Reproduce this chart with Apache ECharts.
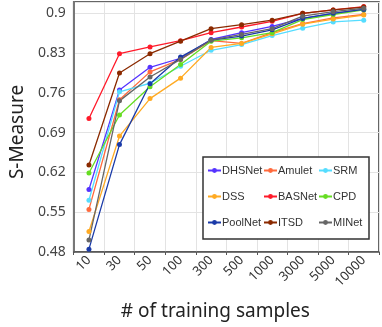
<!DOCTYPE html>
<html>
<head>
<meta charset="utf-8">
<script src="https://cdn.jsdelivr.net/npm/echarts@6/dist/echarts.min.js"></script>
<style>
  html, body { margin: 0; padding: 0; background: #fff; }
  #chart { width: 382px; height: 327px; }
</style>
</head>
<body>
<div id="chart"></div>
<script>
const samples = ['10', '30', '50', '100', '300', '500', '1000', '3000', '5000', '10000']

const dhsnet = [0.590, 0.765, 0.805, 0.821, 0.854, 0.866, 0.877, 0.891, 0.900, 0.907]
const amulet = [0.555, 0.748, 0.797, 0.819, 0.852, 0.847, 0.866, 0.882, 0.892, 0.898]
const srm = [0.571, 0.762, 0.777, 0.807, 0.835, 0.845, 0.861, 0.874, 0.885, 0.888]
const dss = [0.516, 0.684, 0.750, 0.786, 0.840, 0.847, 0.864, 0.881, 0.890, 0.897]
const basnet = [0.715, 0.829, 0.841, 0.852, 0.866, 0.876, 0.886, 0.900, 0.906, 0.912]
const cpd = [0.619, 0.721, 0.771, 0.810, 0.851, 0.857, 0.866, 0.889, 0.898, 0.906]
const poolnet = [0.485, 0.669, 0.776, 0.823, 0.853, 0.860, 0.871, 0.891, 0.900, 0.907]
const itsd = [0.633, 0.795, 0.829, 0.851, 0.873, 0.880, 0.888, 0.900, 0.906, 0.911]
const minet = [0.501, 0.746, 0.788, 0.819, 0.853, 0.863, 0.873, 0.895, 0.903, 0.909]

const methods = [
  { name: 'DHSNet', data: dhsnet, color: '#5533ff' },
  { name: 'Amulet', data: amulet, color: '#ff6a3d' },
  { name: 'SRM', data: srm, color: '#55ddff' },
  { name: 'DSS', data: dss, color: '#ffaa22' },
  { name: 'BASNet', data: basnet, color: '#ff1a2a' },
  { name: 'CPD', data: cpd, color: '#66dd22' },
  { name: 'PoolNet', data: poolnet, color: '#1a3aa8' },
  { name: 'ITSD', data: itsd, color: '#8b2a00' },
  { name: 'MINet', data: minet, color: '#666666' }
]

const font = 'Noto Sans'
const chart = echarts.init(document.getElementById('chart'), null, { renderer: 'canvas' })

// legend: three columns, one legend per column
const legendCol = (left, names) => ({
  orient: 'vertical',
  left: left,
  top: 165,
  itemWidth: 13,
  itemHeight: 6,
  itemGap: 15,
  padding: 0,
  z: 6,
  textStyle: { fontFamily: 'Liberation Sans', fontSize: 11, color: '#333', padding: [0, 0, 0, -4] },
  data: names
})

const option = {
  animation: false,
  backgroundColor: '#fff',
  grid: {
    left: 72,
    right: 3,
    top: 2,
    bottom: 75,
    show: true,
    borderColor: '#333',
    borderWidth: 1.5,
    backgroundColor: 'transparent'
  },
  legend: [
    legendCol(207, ['DHSNet', 'DSS', 'PoolNet']),
    legendCol(263, ['Amulet', 'BASNet', 'ITSD']),
    legendCol(318, ['SRM', 'CPD', 'MINet'])
  ],
  graphic: [{
    type: 'rect',
    z: 5,
    shape: { x: 203, y: 157, width: 166, height: 82 },
    style: { fill: '#fff', stroke: '#333', lineWidth: 1.5 }
  }],
  xAxis: {
    type: 'category',
    data: samples,
    boundaryGap: true,
    name: '# of training samples',
    nameLocation: 'middle',
    nameGap: 50,
    nameTextStyle: { fontFamily: font, fontSize: 19, color: '#222', padding: [0, 22, 0, 0] },
    axisLine: { lineStyle: { color: '#555', width: 1.5 } },
    axisTick: { show: true, length: 3, lineStyle: { color: '#555' } },
    axisLabel: { rotate: 45, margin: 6, fontFamily: font, fontSize: 13, color: '#333' },
    splitLine: { show: true, lineStyle: { color: '#e3e3e3' } }
  },
  yAxis: {
    type: 'value',
    min: 0.48,
    max: 0.92,
    interval: 0.07,
    name: 'S-Measure',
    nameLocation: 'middle',
    nameGap: 46,
    nameTextStyle: { fontFamily: font, fontSize: 19, color: '#222', padding: [0, 10, 0, 0] },
    axisLine: { show: true, lineStyle: { color: '#777', width: 2 } },
    axisTick: { show: false },
    axisLabel: {
      fontFamily: font,
      fontSize: 14,
      color: '#444',
      margin: 8,
      showMaxLabel: false,
      formatter: v => String(+v.toFixed(2))
    },
    splitLine: { show: true, lineStyle: { color: '#e3e3e3' } }
  },
  series: methods.map(m => ({
    name: m.name,
    type: 'line',
    data: m.data,
    color: m.color,
    symbol: 'circle',
    symbolSize: 5,
    lineStyle: { width: 1.3 }
  }))
}

chart.setOption(option)
</script>
</body>
</html>
